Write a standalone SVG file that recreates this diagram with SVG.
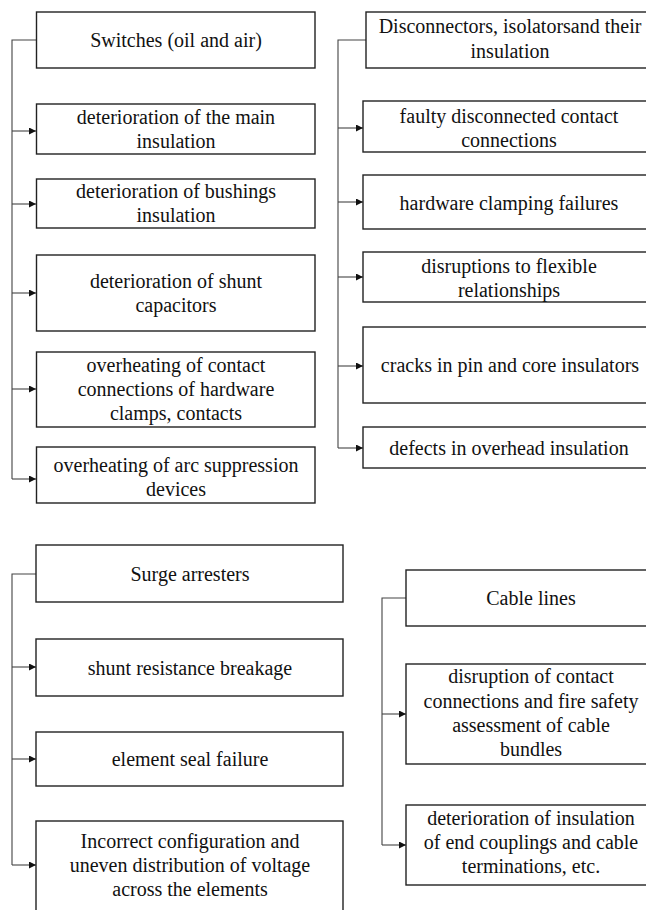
<svg xmlns="http://www.w3.org/2000/svg" width="646" height="910" viewBox="0 0 646 910">
<defs>
<style>
.box{fill:#fff;stroke:#222;stroke-width:1.4}
.t{font-family:"Liberation Serif","Times New Roman",serif;font-size:20px;fill:#111;text-anchor:middle}
.c{fill:none;stroke:#444;stroke-width:1.1}
</style>
<marker id="ah" viewBox="0 0 10 10" refX="10" refY="5" markerWidth="7" markerHeight="7" markerUnits="userSpaceOnUse" orient="auto">
<path d="M0,0 L10,5 L0,10 z" fill="#111"/>
</marker>
</defs>
<rect width="646" height="910" fill="#fff"/>
<g id="connectors">
<path class="c" d="M36.5,40 H12 V479"/>
<path class="c" d="M12,131 H36" marker-end="url(#ah)"/>
<path class="c" d="M12,204 H36" marker-end="url(#ah)"/>
<path class="c" d="M12,293 H36" marker-end="url(#ah)"/>
<path class="c" d="M12,389 H36" marker-end="url(#ah)"/>
<path class="c" d="M12,479 H36" marker-end="url(#ah)"/>
<path class="c" d="M366,40 H338 V448"/>
<path class="c" d="M338,128 H363" marker-end="url(#ah)"/>
<path class="c" d="M338,202 H363" marker-end="url(#ah)"/>
<path class="c" d="M338,277 H363" marker-end="url(#ah)"/>
<path class="c" d="M338,366 H363" marker-end="url(#ah)"/>
<path class="c" d="M338,448 H363" marker-end="url(#ah)"/>
<path class="c" d="M36,574 H12 V865"/>
<path class="c" d="M12,667 H36" marker-end="url(#ah)"/>
<path class="c" d="M12,759 H36" marker-end="url(#ah)"/>
<path class="c" d="M12,865 H36" marker-end="url(#ah)"/>
<path class="c" d="M406,598 H382 V845"/>
<path class="c" d="M382,714 H406" marker-end="url(#ah)"/>
<path class="c" d="M382,845 H406" marker-end="url(#ah)"/>
</g>
<g id="switches"><rect class="box" x="36.5" y="12" width="278.5" height="56"/><text class="t" x="176" y="47">Switches (oil and air)</text></g>
<g id="main-insulation"><rect class="box" x="36.5" y="104" width="278.5" height="50"/><text class="t" x="176" y="124">deterioration of the main</text><text class="t" x="176" y="148">insulation</text></g>
<g id="bushings"><rect class="box" x="36.5" y="179" width="278.5" height="49"/><text class="t" x="176" y="198">deterioration of bushings</text><text class="t" x="176" y="222">insulation</text></g>
<g id="shunt-capacitors"><rect class="box" x="36.5" y="255" width="278.5" height="76"/><text class="t" x="176" y="288">deterioration of shunt</text><text class="t" x="176" y="312">capacitors</text></g>
<g id="overheating-contacts"><rect class="box" x="36.5" y="352" width="278.5" height="75"/><text class="t" x="176" y="372">overheating of contact</text><text class="t" x="176" y="396">connections of hardware</text><text class="t" x="176" y="420">clamps, contacts</text></g>
<g id="arc-suppression"><rect class="box" x="36.5" y="447" width="278.5" height="56"/><text class="t" x="176" y="472">overheating of arc suppression</text><text class="t" x="176" y="496">devices</text></g>
<g id="disconnectors"><rect class="box" x="366" y="12" width="300" height="56"/><text class="t" x="510" y="33">Disconnectors, isolatorsand their</text><text class="t" x="510" y="58">insulation</text></g>
<g id="faulty-contacts"><rect class="box" x="363" y="101" width="300" height="51"/><text class="t" x="509" y="123">faulty disconnected contact</text><text class="t" x="509" y="147">connections</text></g>
<g id="clamping"><rect class="box" x="363" y="175" width="300" height="54"/><text class="t" x="509" y="210">hardware clamping failures</text></g>
<g id="flexible"><rect class="box" x="363" y="252" width="300" height="50"/><text class="t" x="509" y="273">disruptions to flexible</text><text class="t" x="509" y="297">relationships</text></g>
<g id="cracks"><rect class="box" x="363" y="327" width="300" height="76"/><text class="t" x="510" y="372">cracks in pin and core insulators</text></g>
<g id="overhead"><rect class="box" x="363" y="427" width="300" height="41"/><text class="t" x="509" y="455">defects in overhead insulation</text></g>
<g id="surge"><rect class="box" x="36" y="545" width="307" height="57"/><text class="t" x="190" y="581">Surge arresters</text></g>
<g id="shunt-resistance"><rect class="box" x="36" y="639" width="307" height="57"/><text class="t" x="190" y="675">shunt resistance breakage</text></g>
<g id="seal"><rect class="box" x="36" y="732" width="307" height="54"/><text class="t" x="190" y="766">element seal failure</text></g>
<g id="incorrect-config"><rect class="box" x="36" y="821" width="307" height="100"/><text class="t" x="190" y="848">Incorrect configuration and</text><text class="t" x="190" y="872">uneven distribution of voltage</text><text class="t" x="190" y="896">across the elements</text></g>
<g id="cable-lines"><rect class="box" x="406" y="570" width="260" height="56"/><text class="t" x="531" y="605">Cable lines</text></g>
<g id="disruption-contacts"><rect class="box" x="406" y="664" width="260" height="100"/><text class="t" x="531" y="683">disruption of contact</text><text class="t" x="531" y="708">connections and fire safety</text><text class="t" x="531" y="732">assessment of cable</text><text class="t" x="531" y="756">bundles</text></g>
<g id="end-couplings"><rect class="box" x="406" y="805" width="260" height="80"/><text class="t" x="531" y="825">deterioration of insulation</text><text class="t" x="531" y="849">of end couplings and cable</text><text class="t" x="531" y="873">terminations, etc.</text></g>
</svg>
